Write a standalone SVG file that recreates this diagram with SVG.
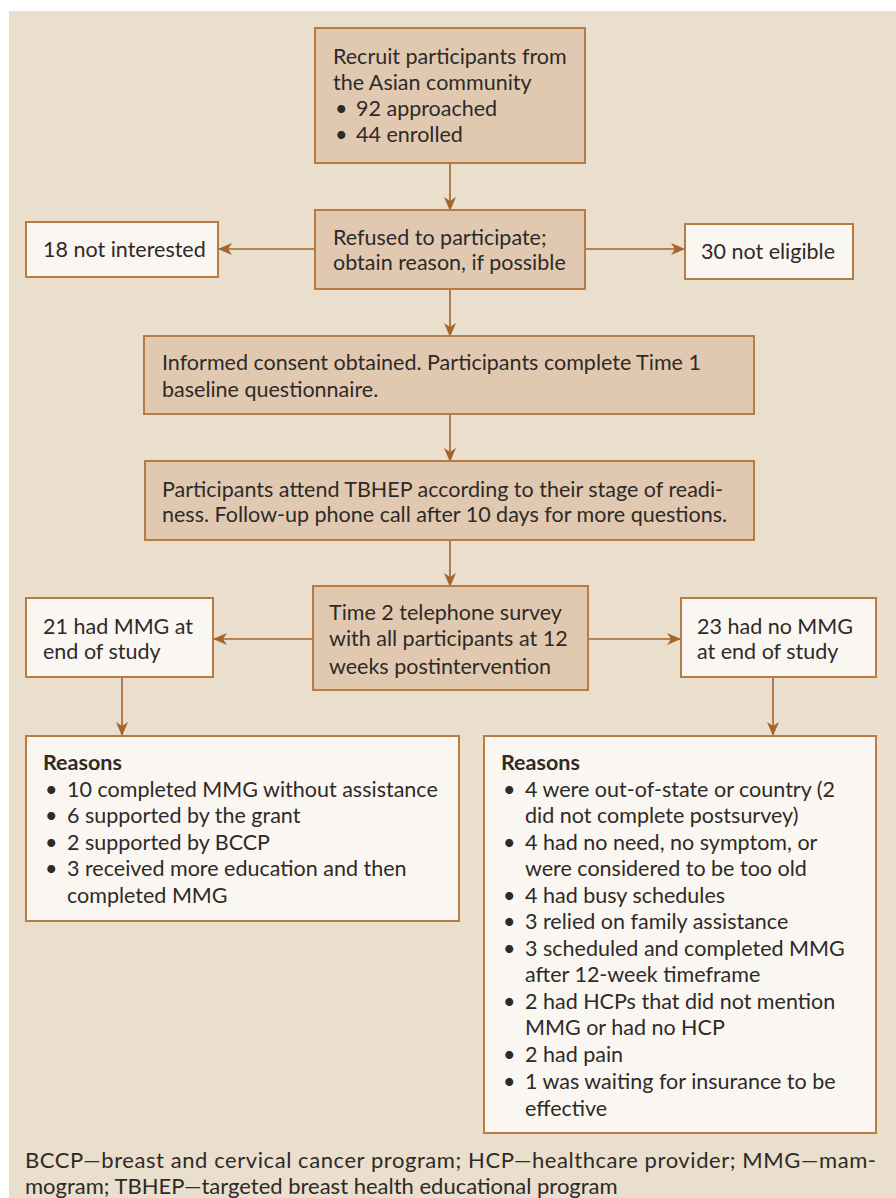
<svg xmlns="http://www.w3.org/2000/svg" width="896" height="1198" viewBox="0 0 896 1198">
<style>
.bg{fill:#EADECD}
.dk{fill:#E1C9B1;stroke:#B87B44;stroke-width:2}
.lt{fill:#FAF6F1;stroke:#B87B44;stroke-width:2}
text{font-family:Lato,"Open Sans",sans-serif;font-size:21.5px;fill:#2E2A27}
.b{font-weight:bold}
.f{font-size:22px}
.c line{stroke:#A4652D;stroke-width:1.6;fill:none}
</style>
<defs>
<marker id="ah" viewBox="0 0 14 12" refX="13" refY="6" markerWidth="14" markerHeight="12" markerUnits="userSpaceOnUse" orient="auto">
<path d="M0,0 L14,6 L0,12 L4,6 Z" fill="#A4652D"/>
</marker>
</defs>
<rect class="bg" x="9" y="11" width="887" height="1187"/>
<g class="c">
<line x1="450" y1="163" x2="450" y2="210" marker-end="url(#ah)"/>
<line x1="315" y1="249" x2="219" y2="249" marker-end="url(#ah)"/>
<line x1="585" y1="249" x2="684" y2="249" marker-end="url(#ah)"/>
<line x1="450" y1="289" x2="450" y2="336" marker-end="url(#ah)"/>
<line x1="450" y1="414" x2="450" y2="461" marker-end="url(#ah)"/>
<line x1="450" y1="540" x2="450" y2="586" marker-end="url(#ah)"/>
<line x1="313" y1="639" x2="214" y2="639" marker-end="url(#ah)"/>
<line x1="589" y1="639" x2="680" y2="639" marker-end="url(#ah)"/>
<line x1="122" y1="677" x2="122" y2="735" marker-end="url(#ah)"/>
<line x1="773" y1="677" x2="773" y2="735" marker-end="url(#ah)"/>
</g>
<g id="recruit">
<rect class="dk" x="315" y="28" width="270" height="135"/>
<text x="333" y="64">Recruit participants from</text>
<text x="333" y="90">the Asian community</text>
<text x="335" y="116">•</text><text x="356" y="116">92 approached</text>
<text x="335" y="142">•</text><text x="356" y="142">44 enrolled</text>
</g>
<g id="refused">
<rect class="dk" x="315" y="210" width="270" height="79"/>
<text x="333" y="245">Refused to participate;</text>
<text x="333" y="270">obtain reason, if possible</text>
</g>
<g id="notinterested">
<rect class="lt" x="26" y="222" width="192" height="55"/>
<text x="43" y="257">18 not interested</text>
</g>
<g id="noteligible">
<rect class="lt" x="685" y="224" width="168" height="55"/>
<text x="701" y="259">30 not eligible</text>
</g>
<g id="consent">
<rect class="dk" x="144" y="336" width="610" height="78"/>
<text x="162" y="370">Informed consent obtained. Participants complete Time 1</text>
<text x="162" y="397">baseline questionnaire.</text>
</g>
<g id="attend">
<rect class="dk" x="145" y="461" width="609" height="79"/>
<text x="162" y="497">Participants attend TBHEP according to their stage of readi-</text>
<text x="162" y="522">ness. Follow-up phone call after 10 days for more questions.</text>
</g>
<g id="time2">
<rect class="dk" x="313" y="586" width="275" height="104"/>
<text x="329" y="620">Time 2 telephone survey</text>
<text x="329" y="646">with all participants at 12</text>
<text x="329" y="674">weeks postintervention</text>
</g>
<g id="hadmmg">
<rect class="lt" x="26" y="598" width="187" height="79"/>
<text x="43" y="634">21 had MMG at</text>
<text x="43" y="659">end of study</text>
</g>
<g id="nommg">
<rect class="lt" x="681" y="598" width="195" height="79"/>
<text x="697" y="634">23 had no MMG</text>
<text x="697" y="659">at end of study</text>
</g>
<g id="reasonsleft">
<rect class="lt" x="26" y="736" width="433" height="185"/>
<text class="b" x="43" y="770">Reasons</text>
<text x="45" y="797">•</text><text x="67" y="797">10 completed MMG without assistance</text>
<text x="45" y="823">•</text><text x="67" y="823">6 supported by the grant</text>
<text x="45" y="850">•</text><text x="67" y="850">2 supported by BCCP</text>
<text x="45" y="876">•</text><text x="67" y="876">3 received more education and then</text>
<text x="67" y="903">completed MMG</text>
</g>
<g id="reasonsright">
<rect class="lt" x="484" y="736" width="392" height="397"/>
<text class="b" x="501" y="770">Reasons</text>
<text x="503" y="797">•</text><text x="525" y="797">4 were out-of-state or country (2</text>
<text x="525" y="823">did not complete postsurvey)</text>
<text x="503" y="850">•</text><text x="525" y="850">4 had no need, no symptom, or</text>
<text x="525" y="876">were considered to be too old</text>
<text x="503" y="903">•</text><text x="525" y="903">4 had busy schedules</text>
<text x="503" y="929">•</text><text x="525" y="929">3 relied on family assistance</text>
<text x="503" y="956">•</text><text x="525" y="956">3 scheduled and completed MMG</text>
<text x="525" y="982">after 12-week timeframe</text>
<text x="503" y="1009">•</text><text x="525" y="1009">2 had HCPs that did not mention</text>
<text x="525" y="1035">MMG or had no HCP</text>
<text x="503" y="1062">•</text><text x="525" y="1062">2 had pain</text>
<text x="503" y="1089">•</text><text x="525" y="1089">1 was waiting for insurance to be</text>
<text x="525" y="1116">effective</text>
</g>
<g id="footer">
<text class="f" x="25" y="1168" textLength="851" lengthAdjust="spacing">BCCP—breast and cervical cancer program; HCP—healthcare provider; MMG—mam-</text>
<text class="f" x="25" y="1194">mogram; TBHEP—targeted breast health educational program</text>
</g>
</svg>
